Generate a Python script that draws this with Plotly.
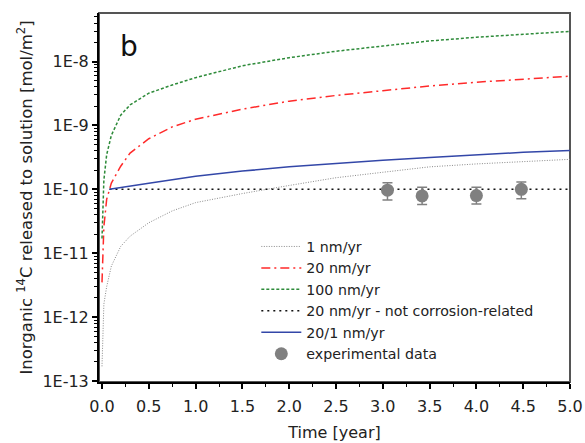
import plotly.graph_objects as go

# ---------------- data ----------------
t = [0, 0.01, 0.02, 0.05, 0.1, 0.2, 0.3, 0.5, 0.75, 1.0, 1.5, 2.0, 2.5, 3.0, 3.5, 4.0, 4.5, 5.0]

rate_1 = [1.7e-13, 1.0e-12, 1.6e-12, 3.0e-12, 6.3e-12, 1.28e-11, 1.85e-11, 3.0e-11, 4.6e-11,
          6.2e-11, 8.6e-11, 1.15e-10, 1.52e-10, 1.85e-10, 2.25e-10, 2.5e-10, 2.75e-10, 2.95e-10]
rate_20 = [3.5e-12, 1.5e-11, 2.6e-11, 7.0e-11, 1.25e-10, 2.3e-10, 3.7e-10, 6.2e-10, 9.5e-10,
           1.25e-9, 1.8e-9, 2.4e-9, 2.95e-9, 3.5e-9, 4.15e-9, 4.75e-9, 5.35e-9, 5.9e-9]
rate_100 = [1.7e-11, 7.0e-11, 1.4e-10, 3.5e-10, 7.0e-10, 1.45e-9, 2.1e-9, 3.2e-9, 4.3e-9,
            5.6e-9, 8.6e-9, 1.15e-8, 1.45e-8, 1.75e-8, 2.1e-8, 2.4e-8, 2.7e-8, 2.97e-8]

t_nc = [0.08, 0.5, 1.0, 1.5, 2.0, 2.5, 3.0, 3.5, 4.0, 4.5, 5.0]
not_corrosion = [1.0e-10, 1.0e-10, 1.0e-10, 1.0e-10, 1.0e-10, 1.0e-10, 1.0e-10, 1.0e-10, 1.0e-10, 1.0e-10, 1.0e-10]

t_201 = [0.08, 0.2, 0.5, 1.0, 1.5, 2.0, 2.5, 3.0, 3.5, 4.0, 4.5, 5.0]
rate_20_1 = [1.0e-10, 1.07e-10, 1.25e-10, 1.6e-10, 1.93e-10, 2.25e-10, 2.55e-10, 2.85e-10,
             3.15e-10, 3.5e-10, 3.8e-10, 4.05e-10]

exp_t = [3.05, 3.42, 4.0, 4.48]
exp_y = [9.7e-11, 7.9e-11, 8.0e-11, 1.0e-10]
exp_top = [1.27e-10, 1.08e-10, 1.08e-10, 1.3e-10]
exp_bottom = [6.8e-11, 5.8e-11, 5.9e-11, 7.1e-11]

y_tickvals = [1e-13, 1e-12, 1e-11, 1e-10, 1e-9, 1e-8]
y_ticktext = ["1E-13", "1E-12", "1E-11", "1E-10", "1E-9", "1E-8"]
x_tickvals = [0, 0.5, 1.0, 1.5, 2.0, 2.5, 3.0, 3.5, 4.0, 4.5, 5.0]
x_ticktext = ["0.0", "0.5", "1.0", "1.5", "2.0", "2.5", "3.0", "3.5", "4.0", "4.5", "5.0"]

# ---------------- figure ----------------
FONT = "DejaVu Sans"
fig = go.Figure()

fig.add_trace(go.Scatter(x=t, y=rate_1, mode="lines", name="1 nm/yr",
                         line=dict(color="#8a8a8a", width=1, dash="1px,1.5px")))
fig.add_trace(go.Scatter(x=t, y=rate_20, mode="lines", name="20 nm/yr",
                         line=dict(color="#ff2a2a", width=1.5, dash="9px,4px,2px,4px")))
fig.add_trace(go.Scatter(x=t, y=rate_100, mode="lines", name="100 nm/yr",
                         line=dict(color="#2e8b3a", width=1.5, dash="3px,2px")))
fig.add_trace(go.Scatter(x=t_nc, y=not_corrosion, mode="lines", name="20 nm/yr - not corrosion-related",
                         line=dict(color="#111111", width=1.5, dash="2px,4px")))
fig.add_trace(go.Scatter(x=t_201, y=rate_20_1, mode="lines", name="20/1 nm/yr",
                         line=dict(color="#3347a8", width=1.5)))

err_plus = [a - b for a, b in zip(exp_top, exp_y)]
err_minus = [b - c for b, c in zip(exp_y, exp_bottom)]
fig.add_trace(go.Scatter(x=exp_t, y=exp_y, mode="markers", name="experimental data",
                         marker=dict(color="#808080", size=13),
                         error_y=dict(type="data", symmetric=False, array=err_plus,
                                      arrayminus=err_minus, color="#808080",
                                      thickness=1.5, width=5)))

# plot frame (top/right in dark grey)
fig.add_shape(type="rect", xref="paper", yref="paper", x0=0, x1=1, y0=0, y1=1,
              line=dict(color="#555555", width=2), layer="below")

fig.add_annotation(text="b", xref="paper", yref="paper", x=0.063, y=0.91,
                   xanchor="center", yanchor="middle", showarrow=False,
                   font=dict(family=FONT, size=28, color="#111111"))

minor_y = [m * 10.0 ** e for e in range(-14, -7) for m in range(2, 10)]

fig.update_layout(
    width=585, height=443,
    margin=dict(l=99, r=15, t=13, b=61, autoexpand=False),
    paper_bgcolor="white", plot_bgcolor="white",
    font=dict(family=FONT, color="#222222"),
    showlegend=True,
    legend=dict(x=0.334, y=0.41, xanchor="left", yanchor="top",
                bgcolor="rgba(0,0,0,0)", borderwidth=0, itemwidth=40,
                font=dict(family=FONT, size=14.2, color="#222222")),
    xaxis=dict(range=[-0.032, 5.0], showgrid=False, zeroline=False, automargin=False,
               showline=True, linecolor="black", linewidth=2,
               ticks="outside", ticklen=5, tickwidth=1.5, tickcolor="black",
               tickvals=x_tickvals, ticktext=x_ticktext, ticklabelstandoff=4,
               tickfont=dict(family=FONT, size=16, color="#222222"),
               minor=dict(ticks="outside", ticklen=3, tickwidth=1, tickcolor="black",
                          tickvals=[0.25, 0.75, 1.25, 1.75, 2.25, 2.75, 3.25, 3.75, 4.25, 4.75]),
               title=dict(text="Time [year]", font=dict(family=FONT, size=16, color="#222222"),
                          standoff=12)),
    yaxis=dict(type="log", range=[-13.015, -7.24], showgrid=False, zeroline=False, automargin=False,
               showline=True, linecolor="black", linewidth=2,
               ticks="outside", ticklen=5, tickwidth=1.5, tickcolor="black",
               tickvals=y_tickvals, ticktext=y_ticktext,
               tickfont=dict(family=FONT, size=16, color="#222222"),
               minor=dict(ticks="outside", ticklen=3, tickwidth=1, tickcolor="black",
                          tickvals=minor_y),
               title=dict(text="Inorganic <sup>14</sup>C released to solution [mol/m<sup>2</sup>]",
                          font=dict(family=FONT, size=16.5, color="#222222"), standoff=6)),
)

fig.write_html("out.html", config={"displayModeBar": False},
               post_script="document.body.style.margin='0';")
